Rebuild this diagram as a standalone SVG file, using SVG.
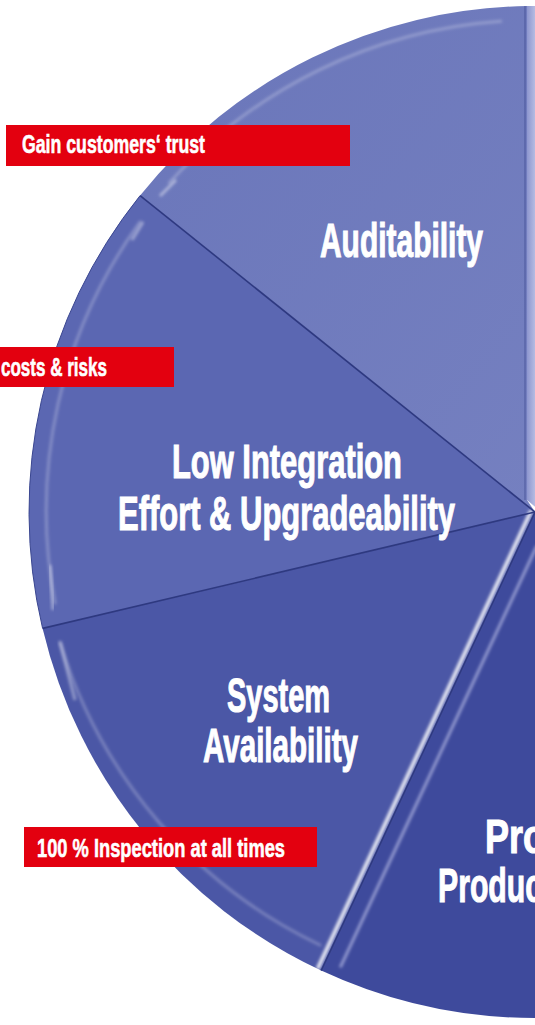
<svg xmlns="http://www.w3.org/2000/svg" width="535" height="1025" viewBox="0 0 535 1025">
  <style>
    .big { font-family: "Liberation Sans Narrow", "Liberation Sans", Arial, sans-serif; font-weight: bold; font-size: 48px; fill: #ffffff; stroke: #ffffff; stroke-width: 1.1; }
    .tag { font-family: "Liberation Sans Narrow", "Liberation Sans", Arial, sans-serif; font-weight: bold; font-size: 26px; fill: #ffffff; stroke: #ffffff; stroke-width: 0.6; }
    .box { fill: #e3000f; }
    .div { fill: none; stroke: #2e3980; stroke-width: 1.6; }
    .bevel { fill: none; stroke: #ffffff; stroke-width: 3; stroke-opacity: 0.25; stroke-linecap: round; }
  </style>
  <defs>
    <filter id="blur" x="-20%" y="-20%" width="140%" height="140%">
      <feGaussianBlur stdDeviation="1.6"/>
    </filter>
    <linearGradient id="strip" x1="0" y1="0" x2="1" y2="0">
      <stop offset="0" stop-color="#8d96cf"/>
      <stop offset="1" stop-color="#d4d8f0"/>
    </linearGradient>
    <linearGradient id="audit" x1="0" y1="0" x2="1" y2="1">
      <stop offset="0" stop-color="#6a76ba"/>
      <stop offset="1" stop-color="#7580c0"/>
    </linearGradient>
  </defs>
  <rect width="535" height="1025" fill="#ffffff"/>

  <g id="segment-right">
    <path d="M527,6 A506,506 0 0 1 541,6.2 L541,512 L527,500 Z" fill="url(#strip)"/>
  </g>
  <g id="segment-auditability">
    <path d="M535,512 L140.1,195.6 A506,506 0 0 1 527,6.06 L527,500 Z" fill="url(#audit)"/>
    <path class="bevel" filter="url(#blur)" d="M169.4,182.8 A492,492 0 0 1 500.7,21.2"/>
    <path d="M160,196 L176,180" stroke="#ffffff" stroke-opacity="0.45" stroke-width="3" filter="url(#blur)" fill="none"/>
  </g>
  <g id="segment-low-integration">
    <path d="M535,512 L42.6,628.4 A506,506 0 0 1 140.1,195.6 Z" fill="#5b67b2"/>
    <path class="bevel" filter="url(#blur)" d="M55,603 A492,492 0 0 1 140,222"/>
    <path d="M50,565 L53,610" stroke="#ffffff" stroke-opacity="0.4" stroke-width="3" filter="url(#blur)" fill="none"/>
    <path d="M132,240 L143,222" stroke="#ffffff" stroke-opacity="0.4" stroke-width="3" filter="url(#blur)" fill="none"/>
  </g>
  <g id="segment-system-availability">
    <path d="M535,512 L321.2,970.6 A506,506 0 0 1 42.6,628.4 Z" fill="#4b57a6"/>
    <path class="bevel" filter="url(#blur)" d="M320,945 A492,492 0 0 1 60,642"/>
    <path d="M60,642 L75,700" stroke="#ffffff" stroke-opacity="0.4" stroke-width="3" filter="url(#blur)" fill="none"/>
  </g>
  <g id="segment-productivity">
    <path d="M535,512 L321.2,970.6 A506,506 0 0 0 541,1018 L541,512 Z" fill="#3e4a9c"/>
  </g>

  <g id="dividers">
    <path d="M531.4,510.3 L317.6,968.9" stroke="#ffffff" stroke-width="4" stroke-opacity="0.85" filter="url(#blur)" fill="none"/>
    <path d="M536.8,546 L340.3,967.4" stroke="#c9cdf0" stroke-width="3" stroke-opacity="0.6" filter="url(#blur)" fill="none"/>
    <path d="M527,8 L527,498" stroke="#ffffff" stroke-width="3" stroke-opacity="0.5" filter="url(#blur)" fill="none"/>
    <path class="div" d="M535,512 L140.1,195.6"/>
    <path class="div" d="M535,512 L42.6,628.4"/>
    <path class="div" d="M535,512 L321.2,970.6"/>
    <path class="div" d="M525,6 L525,500" stroke-opacity="0.35"/>
    <path d="M140.1,195.6 A506,506 0 0 0 42.6,628.4" fill="none" stroke="#3a4690" stroke-width="1"/>
  </g>

  <g id="label-auditability">
    <text class="big" x="320" y="257" textLength="163" lengthAdjust="spacingAndGlyphs">Auditability</text>
  </g>
  <g id="label-low-integration">
    <text class="big" x="172" y="478" textLength="230" lengthAdjust="spacingAndGlyphs">Low Integration</text>
    <text class="big" x="118" y="530" textLength="337" lengthAdjust="spacingAndGlyphs">Effort &amp; Upgradeability</text>
  </g>
  <g id="label-system-availability">
    <text class="big" x="227" y="712" textLength="103" lengthAdjust="spacingAndGlyphs">System</text>
    <text class="big" x="203" y="762" textLength="155" lengthAdjust="spacingAndGlyphs">Availability</text>
  </g>
  <g id="label-productivity">
    <text class="big" x="485" y="853" textLength="60" lengthAdjust="spacingAndGlyphs">Pro</text>
    <text class="big" x="438" y="902" textLength="104" lengthAdjust="spacingAndGlyphs">Produc</text>
  </g>

  <g id="tag-trust">
    <rect class="box" x="6" y="125" width="344" height="41"/>
    <text class="tag" x="22" y="153" textLength="183" lengthAdjust="spacingAndGlyphs">Gain customers‘ trust</text>
  </g>
  <g id="tag-costs">
    <rect class="box" x="0" y="347" width="174" height="40"/>
    <text class="tag" x="1" y="376" textLength="106" lengthAdjust="spacingAndGlyphs">costs &amp; risks</text>
  </g>
  <g id="tag-inspection">
    <rect class="box" x="24" y="827" width="293" height="40"/>
    <text class="tag" x="37" y="857" textLength="248" lengthAdjust="spacingAndGlyphs">100 % Inspection at all times</text>
  </g>
</svg>
